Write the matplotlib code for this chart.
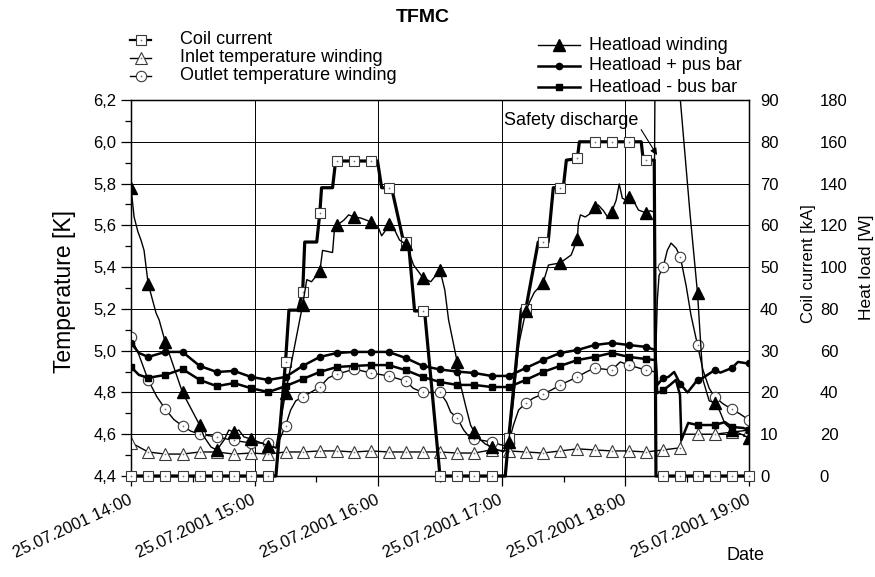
"""
TFMC: coil current, winding temperatures and heat loads, 25.07.2001 14:00-19:00
"""

import numpy as np
import matplotlib
matplotlib.use('Agg')
import matplotlib.pyplot as plt
from matplotlib.lines import Line2D
from matplotlib.ticker import MultipleLocator, FuncFormatter

plt.rcParams['font.family'] = ['Liberation Sans', 'DejaVu Sans']

# ====== data (time in seconds after 14:00, markers every 500 s) ======
coil_t = [0, 500, 1000, 1500, 2000, 2500, 3000, 3500, 4000, 4220,
          4500, 4600, 4860, 5000, 5060, 5410, 5500, 5550, 5870, 5960,
          6000, 6500, 7000, 7180, 7300, 7500, 7590, 7940, 8000, 8080,
          8260, 8500, 8550, 9000, 9500, 10000, 10500, 10900, 11000, 11370,
          11500, 11860, 12000, 12150, 12300, 12500, 12590, 12680, 13000, 13060,
          13500, 14000, 14500, 14860, 14920, 15000, 15240, 15290, 15500, 16000,
          16500, 17000, 17500, 18000]
coil_kA = [0, 0, 0, 0, 0, 0, 0, 0, 0, 0,
           27.3, 39.7, 39.7, 44, 56, 56, 63, 69, 69, 75.4,
           75.4, 75.4, 75.4, 75.4, 69, 69, 69, 56, 56, 56,
           39.5, 39.5, 39.5, 0, 0, 0, 0, 0, 9, 40,
           40, 56, 56, 56, 69, 69, 69, 75.6, 76, 80,
           80, 80, 80, 80, 75.6, 75.6, 75.6, 0, 0, 0,
           0, 0, 0, 0]

inlet_t = [0, 230, 500, 1000, 1500, 2000, 2500, 3000, 3500, 4000,
           4500, 5000, 5500, 6000, 6500, 7000, 7500, 8000, 8500, 9000,
           9500, 10000, 10500, 11000, 11500, 12000, 12500, 13000, 13500, 14000,
           14500, 15000, 15500, 16000, 16040, 16500, 17000, 17500, 18000]
inlet_K = [4.56, 4.539, 4.515, 4.505, 4.505, 4.515, 4.515, 4.505, 4.51, 4.505,
           4.515, 4.515, 4.52, 4.52, 4.515, 4.52, 4.515, 4.515, 4.515, 4.515,
           4.51, 4.51, 4.525, 4.52, 4.515, 4.51, 4.52, 4.53, 4.525, 4.52,
           4.52, 4.515, 4.525, 4.535, 4.60, 4.60, 4.60, 4.61, 4.62]

outlet_t = [0, 230, 500, 750, 1000, 1250, 1500, 1740, 2000, 2500,
            3000, 3500, 4000, 4220, 4500, 4650, 4800, 5000, 5230, 5500,
            5750, 6000, 6220, 6500, 7000, 7500, 8000, 8220, 8500, 9000,
            9190, 9310, 9500, 9690, 9830, 10000, 10500, 10760, 10910, 11000,
            11140, 11290, 11500, 11720, 12000, 12250, 12500, 13000, 13260, 13500,
            14000, 14250, 14500, 15000, 15270, 15330, 15380, 15500, 15620, 15730,
            15880, 16000, 16170, 16310, 16500, 16660, 16840, 17000, 17250, 17500,
            17740, 18000]
outlet_K = [5.066, 4.98, 4.86, 4.78, 4.72, 4.67, 4.64, 4.615, 4.60, 4.587,
            4.57, 4.558, 4.558, 4.534, 4.64, 4.716, 4.76, 4.778, 4.80, 4.826,
            4.87, 4.888, 4.898, 4.912, 4.893, 4.879, 4.855, 4.82, 4.80, 4.80,
            4.754, 4.706, 4.678, 4.62, 4.592, 4.577, 4.563, 4.55, 4.544, 4.558,
            4.644, 4.716, 4.75, 4.773, 4.793, 4.812, 4.836, 4.874, 4.898, 4.917,
            4.907, 4.946, 4.931, 4.907, 4.898, 5.243, 5.36, 5.40, 5.48, 5.515,
            5.49, 5.449, 5.31, 5.17, 5.027, 4.907, 4.82, 4.778, 4.745, 4.72,
            4.697, 4.668]

winding_t = [0, 90, 200, 290, 380, 440, 500, 730, 820, 1000,
             1500, 2000, 2130, 2330, 2500, 2710, 2850, 3000, 3140, 3290,
             3500, 3720, 4000, 4220, 4500, 5000, 5120, 5260, 5500, 5580,
             5870, 5930, 6000, 6200, 6340, 6500, 6690, 7000, 7210, 7300,
             7390, 7500, 7650, 7820, 8000, 8080, 8230, 8500, 8730, 9000,
             9140, 9250, 9400, 9500, 9600, 9740, 9890, 10000, 10120, 10320,
             10500, 10700, 10850, 11000, 11140, 11290, 11500, 11630, 11750, 12000,
             12160, 12500, 12820, 13000, 13030, 13090, 13230, 13410, 13500, 13610,
             13760, 13900, 14000, 14130, 14220, 14310, 14430, 14500, 14660, 14780,
             15000, 15120, 15240, 15300, 15800, 15990, 16280, 16500, 16660, 16840,
             17000, 17100, 17300, 17500, 17830, 18000]
winding_W = [138, 124, 117, 113, 108, 100, 92, 78, 74.7, 64,
             40, 24.4, 18.7, 13.9, 12.4, 17.2, 22, 21, 22, 18.7,
             17.7, 16.3, 14.4, 13.4, 39.7, 82, 94, 93, 98, 108,
             107, 119, 120, 122.5, 125, 124, 123.5, 121.6, 118.7, 115,
             117, 120.6, 118.7, 113, 111, 108, 101, 95, 93, 98.6,
             89, 74.7, 62.7, 54.6, 43.6, 34, 24.4, 21, 18.2, 15.3,
             13.9, 12.4, 11.5, 16.3, 36, 62.7, 79, 84, 88, 92.3,
             101, 102, 105.8, 113.4, 121, 125, 124, 126, 128.8, 129.7,
             127, 123.5, 126.4, 132, 139.8, 133, 132, 133.6, 131, 127.3,
             126, 127, 126.4, 300, 260, 182, 126, 87.6, 46, 36,
             35, 33, 25, 22, 19.6, 18.2]

plus_t = [0, 230, 500, 1000, 1500, 2000, 2500, 3000, 3500, 4000,
          4500, 5000, 5500, 6000, 6500, 7000, 7500, 8000, 8500, 9000,
          9500, 10000, 10500, 11000, 11500, 12000, 12500, 13000, 13500, 14000,
          14500, 15000, 15270, 15330, 15500, 15650, 15820, 16000, 16210, 16500,
          16660, 17000, 17170, 17500, 17680, 17920, 18000]
plus_W = [63.7, 58.9, 57, 59.4, 59.4, 52.7, 49.8, 50.3, 47.4, 46,
          47.4, 52.7, 57, 58.9, 59.4, 59.4, 59.4, 56.5, 52.7, 51,
          50, 49.3, 47.9, 47.9, 51.7, 55.5, 58.9, 60.3, 62.7, 63.7,
          62.7, 61.8, 60.3, 43.6, 47, 47.4, 49.8, 44, 40, 46,
          47, 50.7, 49.5, 51.7, 54.6, 54, 54]

minus_t = [0, 230, 500, 1000, 1500, 2000, 2500, 3000, 3500, 4000,
           4500, 5000, 5500, 6000, 6500, 7000, 7500, 8000, 8500, 9000,
           9500, 10000, 10500, 11000, 11500, 12000, 12500, 13000, 13500, 14000,
           14500, 15000, 15270, 15330, 15500, 15700, 15870, 15990, 16030, 16230,
           16500, 17000, 17300, 17500, 17830, 18000]
minus_W = [52.2, 48.4, 47, 48.4, 51.2, 46, 43, 44.5, 42, 40.2,
           43, 46.4, 49.8, 52.2, 52.7, 53.1, 53.1, 50.7, 47.4, 45,
           43.6, 43.6, 42.6, 42.6, 46, 49.8, 52.7, 55.5, 57, 58.9,
           57, 56, 55.5, 39.7, 41, 43.6, 46, 38.8, 17.2, 25.4,
           24.4, 24.4, 25.8, 23.5, 23, 22]

hour_ticks = [14, 15, 16, 17, 18, 19]
hour_labels = ['25.07.2001 14:00', '25.07.2001 15:00', '25.07.2001 16:00',
               '25.07.2001 17:00', '25.07.2001 18:00', '25.07.2001 19:00']


def hours(t):
    return 14 + np.asarray(t, dtype=float) / 3600.0


def marks(t):
    return [i for i, v in enumerate(t) if v % 500 == 0]


# ====== styles ======
open_mk = dict(mfc='white', mec='#3a3a3a', mew=0.8)
coil_style = dict(color='k', lw=2.3, marker='s', ms=6.5, **open_mk)
inlet_style = dict(color='k', lw=1.0, marker='^', ms=8, **open_mk)
outlet_style = dict(color='k', lw=1.0, marker='o', ms=7.5, **open_mk)
winding_style = dict(color='k', lw=1.0, marker='^', ms=8, mfc='k', mec='k')
plus_style = dict(color='k', lw=1.8, marker='o', ms=4.5, mfc='k', mec='k')
minus_style = dict(color='k', lw=1.8, marker='s', ms=4.5, mfc='k', mec='k')
dot_style = dict(ls='none', marker='o', ms=0.9, mfc='#777777', mec='#777777', mew=0.3)

# ====== figure ======
W, H = 875, 577
fig = plt.figure(figsize=(W / 100, H / 100), dpi=100)
ax = fig.add_axes([131 / W, 1 - 476 / H, 618 / W, 376 / H])
ax2 = ax.twinx()
ax3 = ax.twinx()

for axis, t, v, st, clip in [(ax, inlet_t, inlet_K, inlet_style, True),
                             (ax, outlet_t, outlet_K, outlet_style, True),
                             (ax2, coil_t, coil_kA, coil_style, False)]:
    axis.plot(hours(t), v, markevery=marks(t), clip_on=clip, zorder=3, **st)
    axis.plot(hours(t), v, markevery=marks(t), clip_on=clip, zorder=3, **dot_style)

ax3.plot(hours(plus_t), plus_W, markevery=marks(plus_t), **plus_style)
ax3.plot(hours(minus_t), minus_W, markevery=marks(minus_t), **minus_style)
ax3.plot(hours(winding_t), winding_W, markevery=marks(winding_t), **winding_style)

# temperature axis
ax.set_xlim(14, 19)
ax.set_ylim(4.4, 6.2)
ax.set_yticks(np.arange(4.4, 6.21, 0.2))
ax.yaxis.set_minor_locator(MultipleLocator(0.1))
ax.yaxis.set_major_formatter(FuncFormatter(lambda v, p: f'{v:.1f}'.replace('.', ',')))
ax.set_xticks(hour_ticks)
ax.set_xticklabels(hour_labels, rotation=25, ha='right', rotation_mode='anchor', va='center')
ax.xaxis.set_minor_locator(MultipleLocator(0.5))
ax.tick_params(axis='both', which='major', direction='out', length=7, width=0.9, labelsize=12)
ax.tick_params(axis='both', which='minor', direction='out', length=4, width=0.9)
ax.tick_params(axis='x', which='major', pad=10)
ax.grid(True, which='major', color='k', lw=0.7)
ax.set_axisbelow(True)
for sp in ax.spines.values():
    sp.set_linewidth(1.0)

# coil current axis
ax2.set_ylim(0, 90)
ax2.set_yticks(np.arange(0, 91, 10))
ax2.tick_params(axis='y', length=0, pad=8, labelsize=12)

# heat load axis
ax3.set_ylim(0, 180)
ax3.set_yticks(np.arange(0, 181, 20))
ax3.spines['right'].set_position(('axes', 1 + 68 / 618))
for sp in ax3.spines.values():
    sp.set_visible(False)
ax3.tick_params(axis='y', length=0, pad=2, labelsize=12)

# axis labels and title
fig.text(65 / W, 1 - 292 / H, 'Temperature [K]', rotation=90, fontsize=16.5,
         ha='center', va='center')
fig.text(808 / W, 1 - 264 / H, 'Coil current [kA]', rotation=90, fontsize=12,
         ha='center', va='center')
fig.text(867 / W, 1 - 267 / H, 'Heat load [W]', rotation=90, fontsize=12.5,
         ha='center', va='center')
fig.text(745 / W, 1 - 555 / H, 'Date', fontsize=13, ha='center', va='center')
fig.text(423 / W, 1 - 17 / H, 'TFMC', fontsize=14, fontweight='bold',
         ha='center', va='center')

# safety discharge note
ax2.annotate('Safety discharge', xy=(18.256, 76.8), xytext=(17.018, 85.2),
             fontsize=13, ha='left', va='center',
             arrowprops=dict(arrowstyle='-|>', color='k', lw=0.8,
                             mutation_scale=10, relpos=(1.0, 0.2),
                             shrinkA=0, shrinkB=0))


# ====== legends ======
def legend_entry(x0, x1, xt, y, label, style, dot=False):
    xs = [x0 / W, (x0 + x1) / 2 / W, x1 / W]
    ys = [1 - y / H] * 3
    fig.add_artist(Line2D(xs, ys, transform=fig.transFigure, markevery=[1], **style))
    if dot:
        fig.add_artist(Line2D(xs, ys, transform=fig.transFigure, markevery=[1], **dot_style))
    fig.text(xt / W, 1 - y / H, label, fontsize=13, ha='left', va='center')


legend_entry(130, 151, 180, 40, 'Coil current', dict(coil_style, lw=1.6), dot=True)
legend_entry(130, 151, 180, 58, 'Inlet temperature winding', inlet_style, dot=True)
legend_entry(130, 151, 180, 76, 'Outlet temperature winding', outlet_style, dot=True)
legend_entry(538, 580, 589, 45, 'Heatload winding', winding_style)
legend_entry(538, 580, 589, 66, 'Heatload + pus bar', plus_style)
legend_entry(538, 580, 589, 87, 'Heatload - bus bar', minus_style)

plt.savefig('out.png', dpi=100)
